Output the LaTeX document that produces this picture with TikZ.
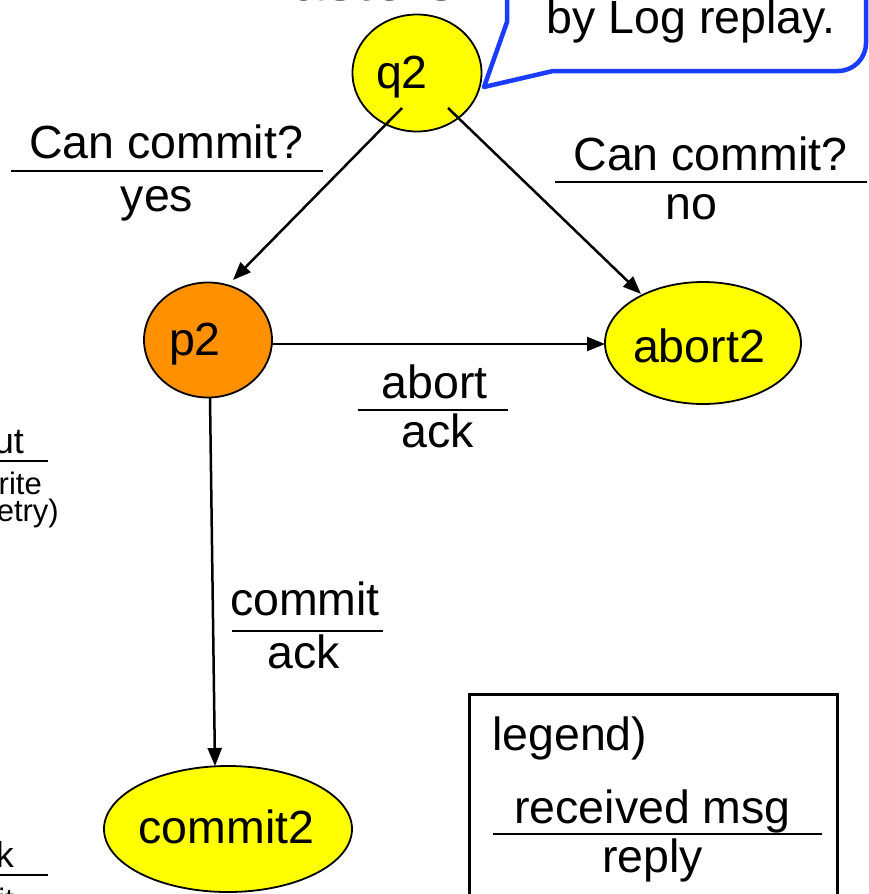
\documentclass[tikz,border=0pt]{standalone}
\usepackage{fontspec}
\setmainfont{Liberation Sans}
\usetikzlibrary{arrows.meta,shapes.geometric,calc}
\definecolor{stateyellow}{RGB}{255,255,0}
\definecolor{stateorange}{RGB}{255,144,0}
\definecolor{calloutblue}{RGB}{25,60,255}
\begin{document}
\begin{tikzpicture}[x=1pt,y=-1pt,
  state/.style={ellipse, draw=black, line width=1.8pt, inner sep=0pt},
  lbl/.style={anchor=base, inner sep=0pt, font=\fontsize{46.5pt}{50pt}\selectfont},
  side/.style={anchor=base east, inner sep=0pt, font=\fontsize{31pt}{33pt}\selectfont},
  sidebig/.style={side, font=\fontsize{36pt}{38pt}\selectfont},
  trans/.style={line width=2.5pt, -{Triangle[length=18pt,width=14pt]}},
  rule/.style={line width=1.8pt}]
\useasboundingbox (0,0) rectangle (869,894);

% title fragment at the top
\node[lbl, font=\fontsize{61pt}{64pt}\selectfont] (title) at (349,1) {Masters};

% callout box
\draw[calloutblue, line width=4.5pt, line join=round, fill=white]
  (507,-10) -- (507,22) -- (484,87) -- (553,71)
  [rounded corners=28pt] -- (866,71) -- (866,-10);
\node[lbl] (note) at (691,33) {by Log replay.};

% states
\node[state, fill=stateyellow, minimum width=129pt, minimum height=117pt] (q2) at (417,73) {};
\node[state, fill=stateorange, minimum width=128pt, minimum height=115pt] (p2) at (208,340) {};
\node[state, fill=stateyellow, minimum width=196pt, minimum height=122pt] (abort2) at (703,343) {};
\node[state, fill=stateyellow, minimum width=248pt, minimum height=126pt] (commit2) at (228,829) {};

\node[lbl] at ([shift={(-15,15)}]q2.center) {q2};
\node[lbl] at ([shift={(-13,15)}]p2.center) {p2};
\node[lbl] at ([shift={(-4,19)}]abort2.center) {abort2};
\node[lbl] at ([shift={(-1.5,14)}]commit2.center) {commit2};

% transitions
\draw[trans] ([shift={(-15,35)}]q2.center) -- ([shift={(25,-60)}]p2.center);
\draw[trans] ([shift={(31,35)}]q2.center) -- ([shift={(-62,-49)}]abort2.center);
\draw[trans] ([shift={(64,4)}]p2.center) -- ([shift={(-98,1)}]abort2.center);
\draw[trans] ([shift={(2,58)}]p2.center) -- ([shift={(-13,-63)}]commit2.center);

% transition labels: received message over reply
\node[lbl] at (166,158) {Can commit?};
\draw[rule] (11,171) -- (323,171);
\node[lbl] at (157,211) {yes};

\node[lbl] at (710.5,170) {Can commit?};
\draw[rule] (555,182) -- (867,182);
\node[lbl] at (691.5,219) {no};

\node[lbl] at (434.5,398) {abort};
\draw[rule] (358,410) -- (508,410);
\node[lbl] at (437.5,447) {ack};

\node[lbl] at (305,615) {commit};
\draw[rule] (232,631) -- (383,631);
\node[lbl] at (304,668) {ack};

% labels of the neighbouring diagram
\node[sidebig] at (24,453) {ut};
\draw[rule] (-5,461) -- (48,461);
\node[side] at (42,494) {rite};
\node[side] at (59,521) {etry)};

\node[sidebig] at (14,867) {k};
\draw[rule] (-5,875) -- (48,875);
\node[side] at (14,910) {it};

% legend
\draw[line width=3pt] (469,900) -- (469,694) -- (837,694) -- (837,900);
\node[lbl, anchor=base west] at (492,750) {legend)};
\node[lbl] at (652.5,823) {received msg};
\draw[rule] (493,834) -- (822,834);
\node[lbl] at (652.5,872) {reply};
\end{tikzpicture}
\end{document}
